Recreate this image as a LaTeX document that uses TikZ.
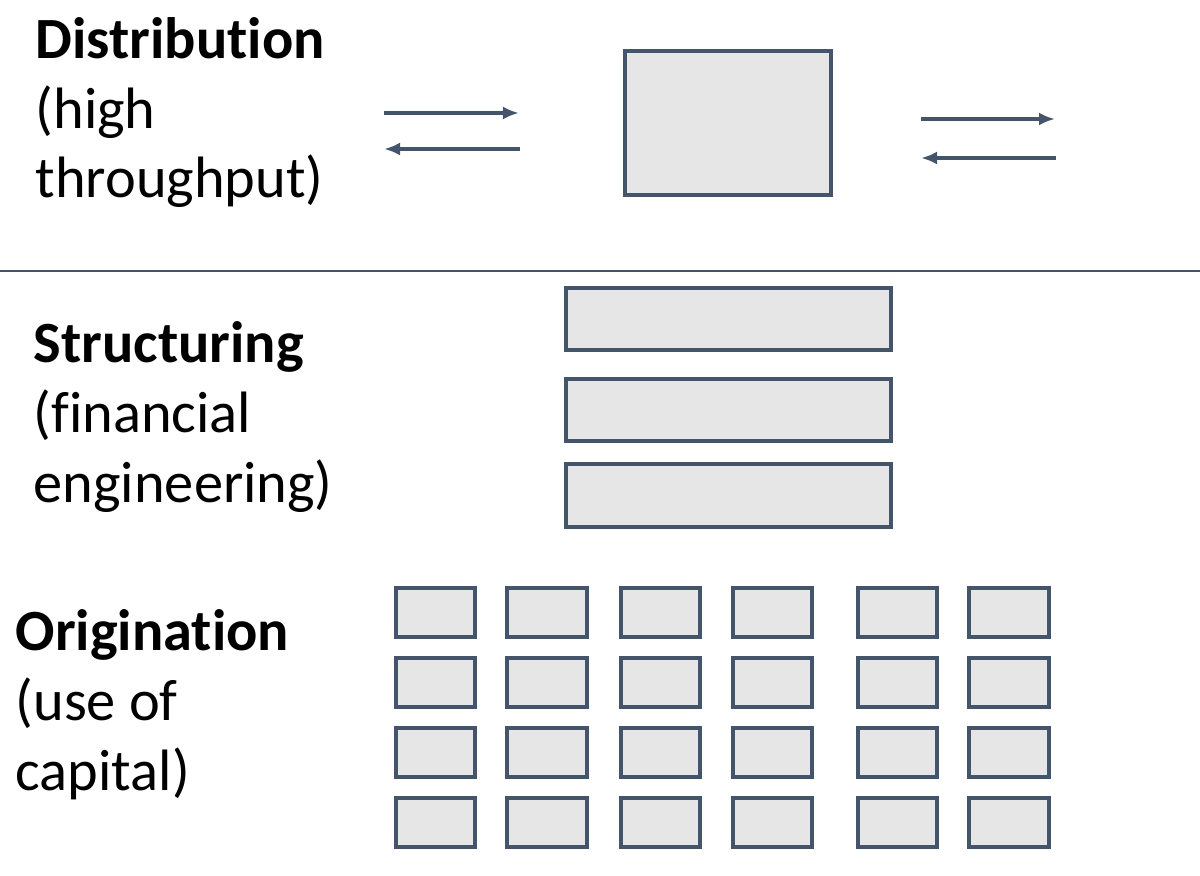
\documentclass[tikz,border=0pt]{standalone}
\usepackage{fontspec}
\setmainfont{Carlito}[Ligatures=CommonOff]
\usepackage{xcolor}
\usepackage{tikz}
\usetikzlibrary{arrows.meta,positioning}

\definecolor{edgeblue}{HTML}{44546A}
\definecolor{boxgray}{HTML}{E7E6E6}

\tikzset{
  layerlabel/.style={anchor=base west, inner sep=0pt, align=left,
    font=\fontsize{16.6}{19.9}\selectfont},
  graybox/.style={draw=edgeblue, fill=boxgray, line width=0.04cm, inner sep=0pt},
  flowarrow/.style={draw=edgeblue, line width=0.04cm, -{Latex[length=0.16cm,width=0.13cm]}}
}

\begin{document}
\begin{tikzpicture}[x=0.01cm,y=-0.01cm]
\useasboundingbox (0,0) rectangle (1200,876);
% Distribution layer (node base = last line)
\node[layerlabel] (distlabel) at (35,198) {\textbf{Distribution}\\(high\\throughput)};
\node[graybox, minimum width=2.06cm, minimum height=1.44cm] (distbox) at (728,123) {};
\coordinate (inL1) at (384,113);  \coordinate (inR1) at (519,113);
\coordinate (inL2) at (384,149);  \coordinate (inR2) at (520,149);
\coordinate (outL1) at (921,119); \coordinate (outR1) at (1055,119);
\coordinate (outL2) at (921,158); \coordinate (outR2) at (1056,158);
\draw[flowarrow] (inL1) -- (inR1);
\draw[flowarrow] (inR2) -- (inL2);
\draw[flowarrow] (outL1) -- (outR1);
\draw[flowarrow] (outR2) -- (outL2);
% Separator
\coordinate (sepL) at (0,271);
\coordinate (sepR) at (1200,271);
\draw[edgeblue, line width=0.025cm] (sepL) -- (sepR);
% Structuring layer
\node[layerlabel] (structlabel) at (33,502) {\textbf{Structuring}\\(financial\\engineering)};
\foreach \name/\y in {structA/319, structB/410, structC/495.5} {
  \node[graybox, minimum width=3.25cm, minimum height=0.62cm] (\name) at (728.5,\y) {};
}
% Origination layer
\node[layerlabel] (origlabel) at (15,790) {\textbf{Origination}\\(use of\\capital)};
\foreach \c/\x in {1/435.5, 2/547, 3/660.5, 4/772.5, 5/897.5, 6/1009} {
  \foreach \r/\y in {1/612.5, 2/682.5, 3/752.5, 4/822.5} {
    \node[graybox, minimum width=0.79cm, minimum height=0.49cm] (orig-\r-\c) at (\x,\y) {};
  }
}
\end{tikzpicture}
\end{document}
